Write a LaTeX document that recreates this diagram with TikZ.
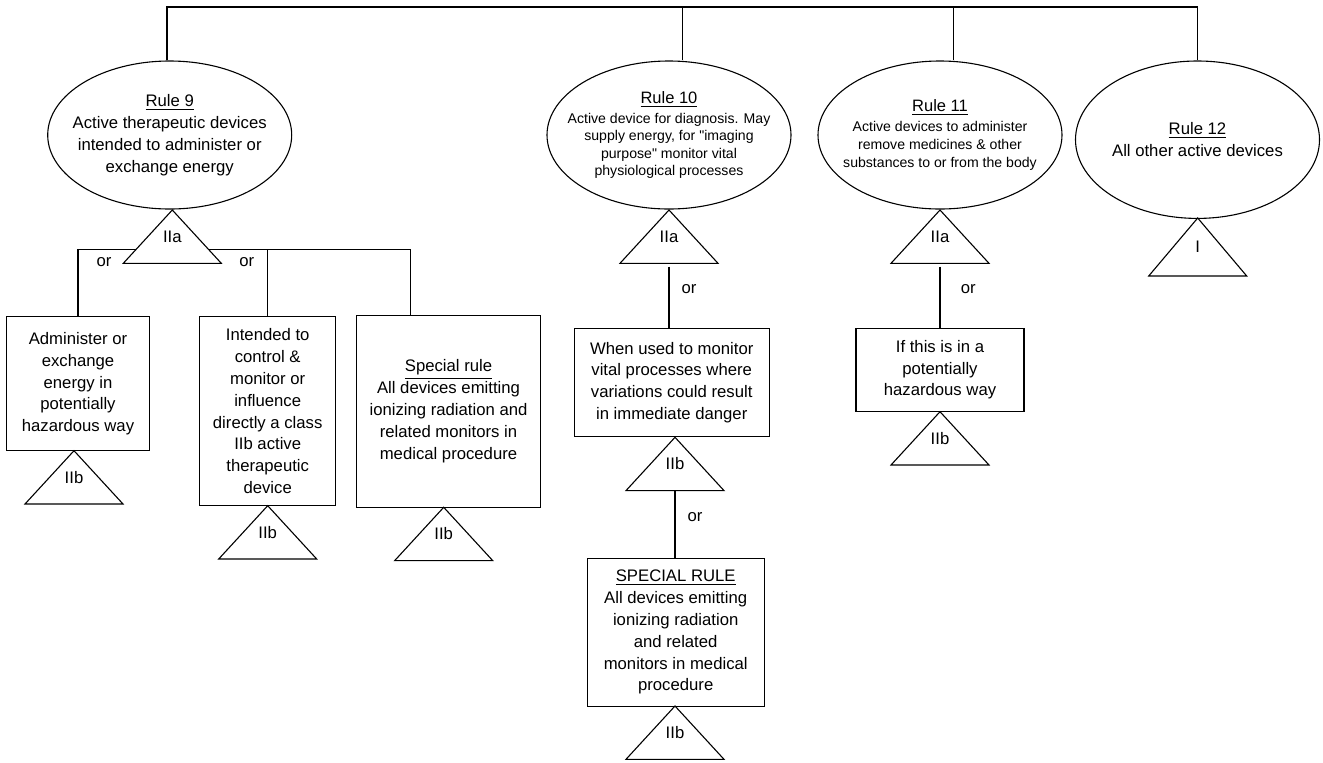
\documentclass[tikz,border=0pt]{standalone}
\usepackage{fontspec}
\setmainfont{Liberation Sans}[Ligatures=TeXOff]
\usetikzlibrary{shapes.geometric}

\begin{document}
\begin{tikzpicture}[x=0.5pt, y=-0.5pt, line width=0.55pt,
    font=\fontsize{8.35}{10.9}\selectfont,
    rule/.style={ellipse, draw, inner sep=0pt, minimum width=122pt, minimum height=74pt},
    cond/.style={draw, align=center, inner sep=0pt},
    txt/.style={align=center, inner sep=0pt},
    small/.style={font=\fontsize{7.05}{8.7}\selectfont},
    cls h/.store in=\clsh, cls h=53.3,
    cls/.pic={
      \draw (0,0) coordinate (-a) -- (-49,\clsh) -- (49,\clsh) -- cycle;
      \coordinate (-b) at (0,\clsh);
      \coordinate (-w) at (-36.1,39.3);
      \coordinate (-e) at (36.1,39.3);
      \node (-l) at (0,{0.5*\clsh}) {#1};
    }]
  \useasboundingbox (0,0) rectangle (1323,762);

  % Rules
  \node[rule] (r9) at (169.7,135) {};
  \node[rule] (r10) at (669,135) {};
  \node[rule] (r11) at (940,135) {};
  \node[rule, minimum height=78.7pt] (r12) at (1197.5,139.7) {};
  \node[txt] (r9t) at (r9) {\underline{Rule 9}\\Active therapeutic devices\\intended to administer or\\exchange energy};
  \node[txt, small] (r10t) at (r10) {{\fontsize{8.25}{10}\selectfont\underline{Rule 10}}\\[1.4pt]Active device for diagnosis. May\\supply energy, for "imaging\\purpose" monitor vital\\physiological processes};
  \node[txt, font=\fontsize{7.05}{9}\selectfont] (r11t) at (r11) {{\fontsize{8.25}{10}\selectfont\underline{Rule 11}}\\[1.15pt]Active devices to administer\\remove medicines \& other\\substances to or from the body};
  \node[txt] (r12t) at (r12) {\underline{Rule 12}\\[0.4pt]All other active devices};

  % Top line
  \coordinate (bus) at (0,7);
  \coordinate (r9j) at ([xshift=-1.35pt]r9.north);
  \coordinate (r10j) at ([xshift=6.7pt]r10.north);
  \coordinate (r11j) at ([xshift=6.7pt]r11.north);
  \draw (r9j) -- (r9j |- bus) -- (r12.north |- bus) -- (r12.north);
  \draw (r10j) -- (r10j |- bus);
  \draw (r11j) -- (r11j |- bus);

  % Classes of the rules
  \pic (t9) at (172.3,210) {cls=IIa};
  \pic (t10) at (669,210) {cls=IIa};
  \pic (t11) at (940,210) {cls=IIa};
  \pic[cls h=58] (t12) at (1197.7,218) {cls=I};

  % Rule 9 branches
  \node[cond, minimum width=71.3pt, minimum height=67pt] (b1) at (78,383.7) {Administer or\\exchange\\energy in\\potentially\\hazardous way};
  \node[cond, minimum width=68pt, minimum height=94.5pt] (b2) at (267.7,411.2) {Intended to\\control \&\\monitor or\\influence\\directly a class\\IIb active\\therapeutic\\device};
  \node[cond, minimum width=91.85pt, minimum height=96.15pt] (b3) at (448.5,411.2) {\underline{Special rule}\\All devices emitting\\ionizing radiation and\\related monitors in\\medical procedure};
  \coordinate (b3j) at ([xshift=27.15pt]b3.north west);
  \draw (t9-w) -| (b1.north);
  \draw (t9-e) -| (b2.north);
  \draw (t9-e) -| (b3j);
  \node (or9a) at (104,262) {or};
  \node (or9b) at (246.7,262) {or};
  \pic (t9a) at (74,450.7) {cls=IIb};
  \pic (t9b) at (267.7,505.7) {cls=IIb};
  \pic (t9c) at (443.7,507.3) {cls=IIb};

  % Rule 10 branches
  \node[cond, minimum width=97.65pt, minimum height=54.2pt] (w10) at (671.7,382.5) {When used to monitor\\vital processes where\\variations could result\\in immediate danger};
  \draw[shorten <=1.7pt] (t10-b) -- (t10-b |- w10.north);
  \node (or10a) at (689,289) {or};
  \pic (t10a) at (675,437.3) {cls=IIb};
  \node[cond, minimum width=88.35pt, minimum height=73.85pt] (s10) at (675.7,632.2) {\underline{SPECIAL RULE}\\All devices emitting\\ionizing radiation\\and related\\monitors in medical\\procedure};
  \draw (t10a-b) -- (t10a-b |- s10.north);
  \node (or10b) at (695,517.3) {or};
  \pic (t10b) at (675,706) {cls=IIb};

  % Rule 11 branch
  \node[cond, minimum width=84pt, minimum height=41.35pt] (i11) at (940,369.7) {If this is in a\\potentially\\hazardous way};
  \draw[shorten <=1.7pt] (t11-b) -- (t11-b |- i11.north);
  \node (or11) at (968.3,289) {or};
  \pic (t11a) at (940,411.7) {cls=IIb};
\end{tikzpicture}
\end{document}
